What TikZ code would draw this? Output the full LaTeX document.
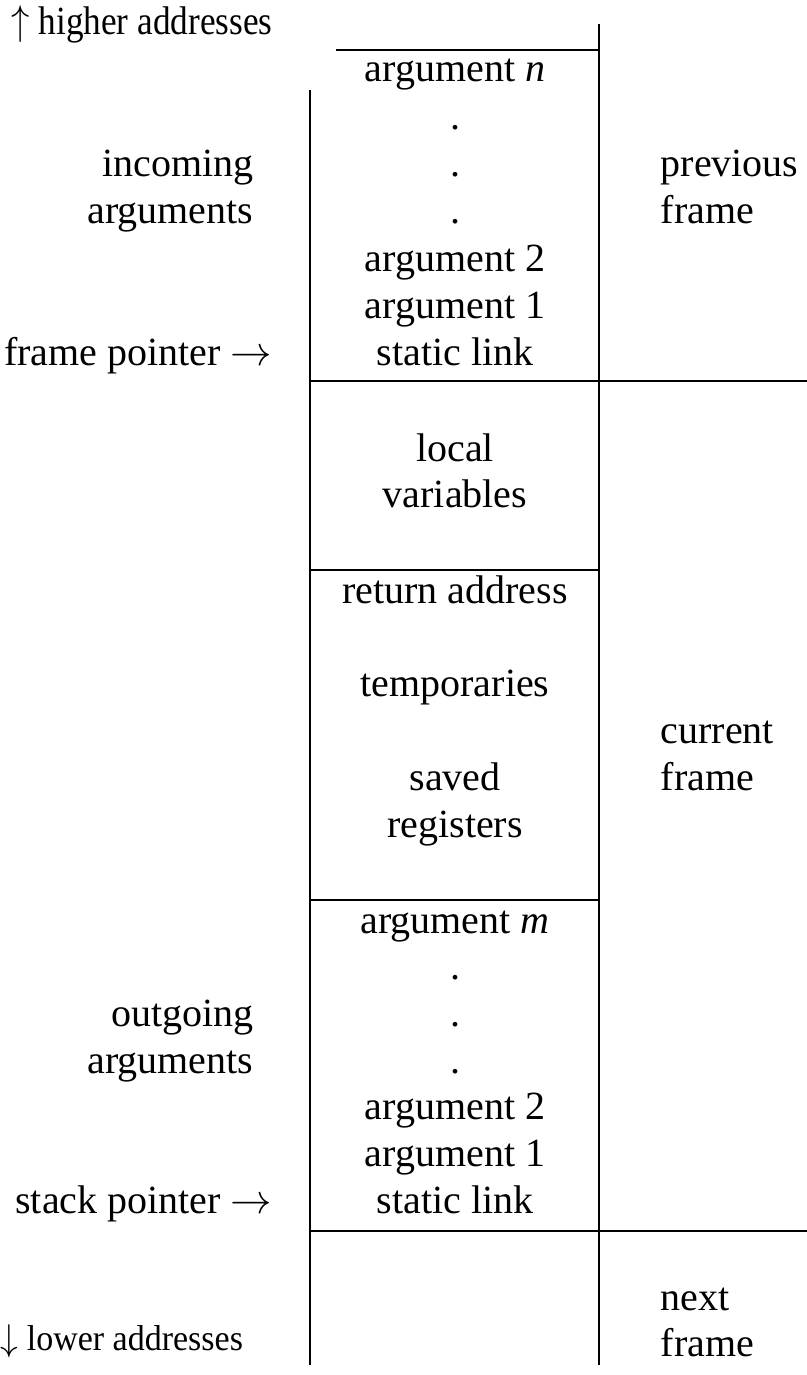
\documentclass[tikz,border=0pt]{standalone}
\usepackage{fontspec}
\setmainfont{Liberation Serif}
\begin{document}
\begin{tikzpicture}[x=0.5pt,y=-0.5pt,line width=0.7pt,
    every node/.style={font=\fontsize{20}{23.25}\selectfont,inner sep=0pt},
    slot/.style={anchor=base},
    lbl/.style={anchor=base east},
    side/.style={anchor=base west}]
    \useasboundingbox (0,0) rectangle (807,1375);

    % stack columns
    \draw (310,90) -- (310,1365);
    \draw (599,24) -- (599,1365);
    \draw (336,50) -- (599,50);
    \draw (310,381) -- (807,381);
    \draw (310,570) -- (599,570);
    \draw (310,900) -- (599,900);
    \draw (310,1231) -- (807,1231);

    % previous frame
    \node[slot] (argn)  at (455,82)  {argument \textit{n}};
    \foreach \y/\n in {129.3/a,176.6/b,223.9/c}
      \node[slot] (indot\n) at (455,\y) {.};
    \node[slot] (inarg2) at (455,271.2) {argument 2};
    \node[slot] (inarg1) at (455,318.5) {argument 1};
    \node[slot] (inlink) at (455,365.8) {static link};

    % current frame
    \node[slot] (local) at (455,461) {local};
    \node[slot] (vars)  at (455,507) {variables};
    \node[slot] (ret)   at (455,603) {return address};
    \node[slot] (temps) at (455,696) {temporaries};
    \node[slot] (saved) at (455,790) {saved};
    \node[slot] (regs)  at (455,837) {registers};

    \node[slot] (argm)  at (455,933) {argument \textit{m}};
    \foreach \y/\n in {979.7/a,1026.4/b,1073.1/c}
      \node[slot] (outdot\n) at (455,\y) {.};
    \node[slot] (outarg2) at (455,1119.8) {argument 2};
    \node[slot] (outarg1) at (455,1166.5) {argument 1};
    \node[slot] (outlink) at (455,1213.2) {static link};

    % left side
    \node[side] (high) at (11,35)      {\scalebox{0.88}[1]{$\uparrow$ higher addresses}};
    \node[lbl]  (inc)  at (254,176.6)  {incoming};
    \node[lbl]  (inca) at (254,223.9)  {arguments};
    \node[lbl]  (fp)   at (273,365.8)  {frame pointer $\rightarrow$};
    \node[lbl]  (out)  at (254,1026.4) {outgoing};
    \node[lbl]  (outa) at (254,1073.1) {arguments};
    \node[lbl]  (sp)   at (273,1213.2) {stack pointer $\rightarrow$};
    \node[side] (low)  at (0,1350)     {\scalebox{0.85}[0.9]{$\downarrow$ lower addresses}};

    % right side
    \node[side] (prev)  at (660,176.6) {previous};
    \node[side] (prevf) at (660,223.9) {frame};
    \node[side] (cur)   at (660,743)   {current};
    \node[side] (curf)  at (660,790)   {frame};
    \node[side] (next)  at (660,1310)  {next};
    \node[side] (nextf) at (660,1356)  {frame};
  \end{tikzpicture}
\end{document}
